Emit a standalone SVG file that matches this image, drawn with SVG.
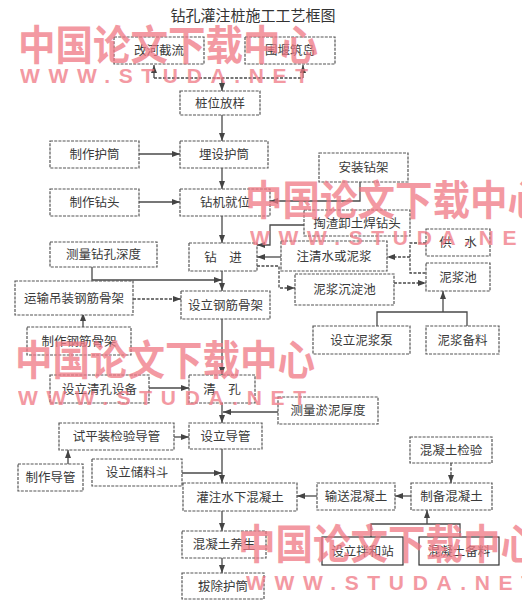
<svg xmlns="http://www.w3.org/2000/svg" width="522" height="610" viewBox="0 0 522 610">
<defs>
<marker id="ah" viewBox="0 0 8 6" refX="8" refY="3" markerWidth="8" markerHeight="6" markerUnits="userSpaceOnUse" orient="auto">
<path d="M0,0 L8,3 L0,6 z" fill="#444"/>
</marker>
</defs>
<style>
.box rect{fill:#fff;stroke:#555;stroke-width:1.2;stroke-dasharray:3 1.2}
.box text{font-family:"Noto Sans CJK SC","Noto Sans CJK JP",sans-serif;font-size:12.5px;fill:#3a3a3a;text-anchor:middle}
.solid rect{stroke-dasharray:none;stroke:#333}
.c path{fill:none;stroke:#4a4a4a;stroke-width:1.3}
.c .a{marker-end:url(#ah)}
.c .d{stroke-dasharray:3 1.5}
.title{font-family:"Noto Sans CJK SC",sans-serif;font-size:15px;fill:#333;text-anchor:middle}
.wm{font-family:"Noto Sans CJK SC",sans-serif;font-weight:bold;font-size:41px;fill:#f07884;opacity:0.75}
.ww{font-family:"Liberation Sans",Arial,sans-serif;font-weight:bold;font-size:21px;fill:#f07884;opacity:0.75}
</style>
<rect width="522" height="610" fill="#fff"/>
<text class="title" x="253" y="21">钻孔灌注桩施工工艺框图</text>

<g id="connectors" class="c">
<path class="d" d="M154,78 H303"/>
<path class="a" d="M154,78 V65"/>
<path class="a" d="M303,78 V65"/>
<path class="a" d="M222,78 V91"/>
<path class="a" d="M222,115 V141"/>
<path class="a" d="M139,154 H180"/>
<path class="a" d="M222,168 V189"/>
<path class="a" d="M139,202 H180"/>
<path class="a" d="M360,182 V201 H270"/>
<path class="a" d="M304,225 H270 V245 H257"/>
<path class="a" d="M281,257 H257"/>
<path class="a" d="M222,216 V243"/>
<path class="a" d="M222,271 V291"/>
<path class="a" d="M92,267 V280 H222"/>
<path class="a d" d="M257,266 H279 V288 H295"/>
<path class="d" d="M426,243 H410 V273 H426"/>
<path class="a d" d="M410,257 H387"/>
<path class="a d" d="M394,283 H426"/>
<path d="M377,326 V312 H467 V326"/>
<path class="a" d="M443,312 V291"/>
<path class="a d" d="M133,299 H181"/>
<path class="a" d="M83,327 V313"/>
<path class="a" d="M222,319 V375"/>
<path class="a" d="M149,388 H189"/>
<path class="a" d="M222,403 V423"/>
<path class="a" d="M278,412 H223"/>
<path class="a" d="M174,437 H189"/>
<path class="a" d="M68,464 V450"/>
<path class="a" d="M222,449 V483"/>
<path class="a" d="M182,473 H222"/>
<path class="a" d="M411,496 H395"/>
<path class="a" d="M317,496 H297"/>
<path class="a d" d="M451,463 V483"/>
<path d="M371,537 V524 H460 V537"/>
<path class="a" d="M427,524 V510"/>
<path class="a" d="M222,511 V531"/>
<path class="a" d="M222,558 V573"/>
</g>

<g id="n1" class="box"><rect x="114" y="37" width="90" height="27"/><text x="159" y="55">改河截流</text></g>
<g id="n2" class="box"><rect x="245" y="37" width="90" height="27"/><text x="290" y="55">围堰筑岛</text></g>
<g id="n3" class="box"><rect x="180" y="91" width="80" height="24"/><text x="220" y="107.5">桩位放样</text></g>
<g id="n4" class="box"><rect x="50" y="141" width="89" height="27"/><text x="94.5" y="159">制作护筒</text></g>
<g id="n5" class="box"><rect x="180" y="141" width="88" height="27"/><text x="224" y="159">埋设护筒</text></g>
<g id="n6" class="box"><rect x="50" y="189" width="89" height="27"/><text x="94.5" y="207">制作钻头</text></g>
<g id="n7" class="box"><rect x="180" y="189" width="90" height="27"/><text x="225" y="207">钻机就位</text></g>
<g id="n8" class="box"><rect x="319" y="153" width="89" height="29"/><text x="363.5" y="172">安装钻架</text></g>
<g id="n9" class="box"><rect x="304" y="210" width="106" height="26"/><text x="357" y="227.5">掏渣卸土焊钻头</text></g>
<g id="n10" class="box"><rect x="189" y="243" width="68" height="28"/><text x="223" y="261.5">钻　进</text></g>
<g id="n11" class="box"><rect x="281" y="241" width="106" height="30"/><text x="334" y="260.5">注清水或泥浆</text></g>
<g id="n12" class="box"><rect x="426" y="229" width="64" height="27"/><text x="458" y="247">供　水</text></g>
<g id="n13" class="box"><rect x="426" y="263" width="64" height="28"/><text x="458" y="281.5">泥浆池</text></g>
<g id="n14" class="box"><rect x="50" y="242" width="107" height="25"/><text x="103.5" y="259">测量钻孔深度</text></g>
<g id="n15" class="box"><rect x="181" y="291" width="89" height="28"/><text x="225.5" y="309.5">设立钢筋骨架</text></g>
<g id="n16" class="box"><rect x="295" y="274" width="99" height="31"/><text x="344.5" y="294">泥浆沉淀池</text></g>
<g id="n17" class="box"><rect x="15" y="281" width="118" height="34"/><text x="74" y="302.5">运输吊装钢筋骨架</text></g>
<g id="n18" class="box"><rect x="27" y="327" width="104" height="28"/><text x="79" y="345.5">制作钢筋骨架</text></g>
<g id="n19" class="box"><rect x="313" y="326" width="97" height="28"/><text x="361.5" y="344.5">设立泥浆泵</text></g>
<g id="n20" class="box"><rect x="426" y="326" width="73" height="28"/><text x="462.5" y="344.5">泥浆备料</text></g>
<g id="n21" class="box"><rect x="189" y="375" width="66" height="28"/><text x="222" y="393.5">清　孔</text></g>
<g id="n22" class="box"><rect x="50" y="375" width="99" height="28"/><text x="99.5" y="393.5">设立清孔设备</text></g>
<g id="n23" class="box"><rect x="278" y="397" width="100" height="27"/><text x="328" y="415">测量淤泥厚度</text></g>
<g id="n24" class="box"><rect x="189" y="423" width="73" height="26"/><text x="225.5" y="440.5">设立导管</text></g>
<g id="n25" class="box"><rect x="59" y="423" width="115" height="27"/><text x="116.5" y="441">试平装检验导管</text></g>
<g id="n26" class="box"><rect x="18" y="464" width="65" height="27"/><text x="50.5" y="482">制作导管</text></g>
<g id="n27" class="box"><rect x="92" y="459" width="90" height="27"/><text x="137" y="477">设立储料斗</text></g>
<g id="n28" class="box"><rect x="183" y="483" width="114" height="28"/><text x="240" y="501.5">灌注水下混凝土</text></g>
<g id="n29" class="box"><rect x="317" y="483" width="78" height="27"/><text x="356" y="501">输送混凝土</text></g>
<g id="n30" class="box"><rect x="411" y="483" width="81" height="27"/><text x="451.5" y="501">制备混凝土</text></g>
<g id="n31" class="box"><rect x="410" y="437" width="82" height="26"/><text x="451" y="454.5">混凝土检验</text></g>
<g id="n32" class="box solid"><rect x="322" y="537" width="81" height="28"/><text x="362.5" y="555.5">设立拌和站</text></g>
<g id="n33" class="box solid"><rect x="419" y="537" width="80" height="28"/><text x="459" y="555.5">混凝土备料</text></g>
<g id="n34" class="box"><rect x="182" y="531" width="84" height="27"/><text x="224" y="549">混凝土养生</text></g>
<g id="n35" class="box"><rect x="182" y="573" width="82" height="26"/><text x="223" y="590.5">拔除护筒</text></g>

<g id="watermarks">
<text class="wm" x="18" y="60" textLength="300" lengthAdjust="spacingAndGlyphs">中国论文下载中心</text>
<text class="ww" x="20" y="83" textLength="288" lengthAdjust="spacing">WWW.STUDA.NET</text>
<text class="wm" x="245" y="215" textLength="300" lengthAdjust="spacingAndGlyphs">中国论文下载中心</text>
<text class="ww" x="250" y="245" textLength="288" lengthAdjust="spacing">WWW.STUDA.NET</text>
<text class="wm" x="15" y="375" textLength="300" lengthAdjust="spacingAndGlyphs">中国论文下载中心</text>
<text class="ww" x="18" y="405" textLength="288" lengthAdjust="spacing">WWW.STUDA.NET</text>
<text class="wm" x="238" y="559" textLength="300" lengthAdjust="spacingAndGlyphs">中国论文下载中心</text>
<text class="ww" x="246" y="590" textLength="288" lengthAdjust="spacing">WWW.STUDA.NET</text>
</g>
</svg>
